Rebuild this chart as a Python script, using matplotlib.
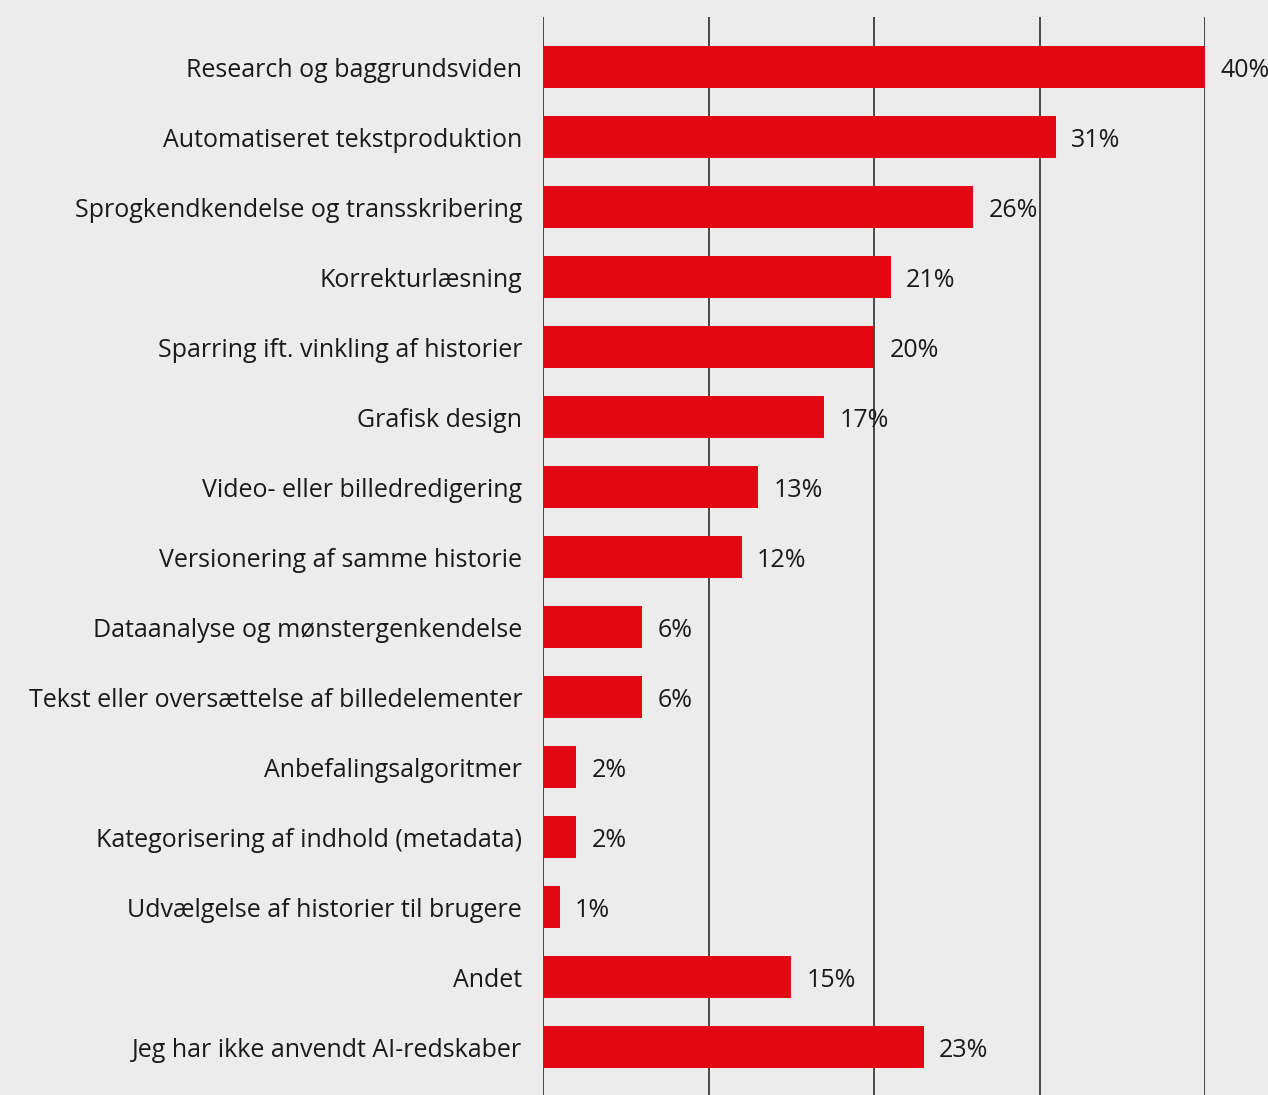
import matplotlib
matplotlib.use("Agg")
import matplotlib.pyplot as plt

categories = [
    "Research og baggrundsviden",
    "Automatiseret tekstproduktion",
    "Sprogkendkendelse og transskribering",
    "Korrekturlæsning",
    "Sparring ift. vinkling af historier",
    "Grafisk design",
    "Video- eller billedredigering",
    "Versionering af samme historie",
    "Dataanalyse og mønstergenkendelse",
    "Tekst eller oversættelse af billedelementer",
    "Anbefalingsalgoritmer",
    "Kategorisering af indhold (metadata)",
    "Udvælgelse af historier til brugere",
    "Andet",
    "Jeg har ikke anvendt AI-redskaber",
]
values = [40, 31, 26, 21, 20, 17, 13, 12, 6, 6, 2, 2, 1, 15, 23]
grid_ticks = [0, 10, 20, 30, 40]

BG = "#ececec"
RED = "#e30613"
TEXT = "#1a1a1a"

plt.rcParams["font.family"] = ["Open Sans", "DejaVu Sans"]

fig = plt.figure(figsize=(12.68, 10.95), dpi=100, facecolor=BG)
ax = fig.add_axes([543 / 1268, 0, (1205 - 543) / 1268, 1 - 17 / 1095])
ax.set_facecolor(BG)

y = list(range(len(categories)))
ax.barh(y, values, height=0.6, color=RED, zorder=3)

for t in grid_ticks:
    ax.axvline(t, color="#3a3a3a", lw=1.3, zorder=2)

ax.set_xlim(0, 40)
ax.set_ylim(len(categories) - 0.32, -0.72)

for yi, v in zip(y, values):
    ax.annotate(f"{v}%", (v, yi), xytext=(11, 0), textcoords="offset points",
                va="center_baseline", ha="left", fontsize=18, color=TEXT,
                annotation_clip=False, zorder=4)

ax.set_yticks(y)
ax.set_yticklabels(categories, fontsize=18, color=TEXT, va="center_baseline")
ax.tick_params(axis="y", length=0, pad=15)
ax.set_xticks([])
for s in ax.spines.values():
    s.set_visible(False)

fig.savefig("out.png", dpi=100, facecolor=BG)
